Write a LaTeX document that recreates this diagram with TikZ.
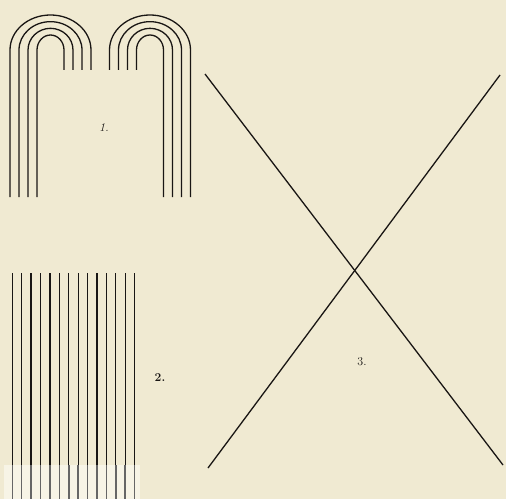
\documentclass[tikz,border=0pt]{standalone}
\usepackage{tikz}
\usepackage{xcolor}
\definecolor{paper}{RGB}{240,234,210}
\definecolor{ink}{RGB}{25,22,20}
\tikzset{wire/.style={ink,line width=1.3pt},
  faded/.style={black!60,line width=1.5pt},
  fig/.style={ink,font=\large}}

\begin{document}
\begin{tikzpicture}[x=1pt,y=1pt]
\fill[paper] (0,0) rectangle (506,499);
\useasboundingbox (0,0) rectangle (506,499);
\foreach \k in {0,...,3} {
  \pgfmathsetmacro{\r}{13.5+9*\k}
  \pgfmathsetmacro{\ry}{15+6.67*\k}
  \draw[wire] (50.5-\r,302) -- (50.5-\r,449) arc[start angle=180,end angle=0,x radius=\r pt,y radius=\ry pt] -- (50.5+\r,429);
  \draw[wire] (150-\r,429) -- (150-\r,449) arc[start angle=180,end angle=0,x radius=\r pt,y radius=\ry pt] -- (150+\r,302);
}
\node[fig] (one) at (104,371) {\textit{1.}};
\fill[white!45!paper] (4,0) rectangle (140,34);
\foreach \i in {0,...,13} {
  \draw[wire] (12.3+9.41*\i,226) -- (12.3+9.41*\i,34);
  \draw[faded] (12.3+9.41*\i,34) -- (12.3+9.41*\i,0);
}
\node[fig] (two) at (160,121) {\textbf{2.}};
\coordinate (nw) at (205,425);
\coordinate (se) at (503,34);
\coordinate (sw) at (208,31);
\coordinate (ne) at (500,424);
\draw[wire] (nw) -- (se);
\draw[wire] (sw) -- (ne);
\node[fig] (three) at (362,137) {3.};
\end{tikzpicture}
\end{document}
